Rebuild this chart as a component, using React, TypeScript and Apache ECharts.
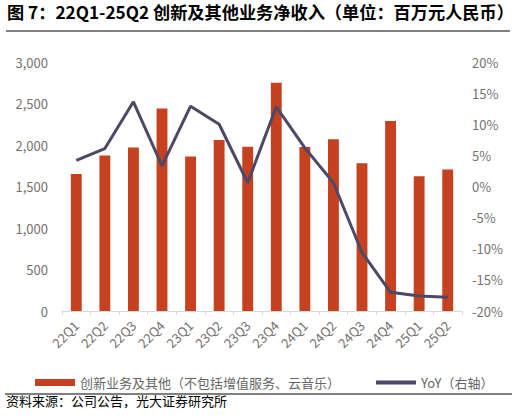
import React, { useEffect, useRef } from "react";
import * as echarts from "echarts";

const categories = ["22Q1","22Q2","22Q3","22Q4","23Q1","23Q2","23Q3","23Q4","24Q1","24Q2","24Q3","24Q4","25Q1","25Q2"];
const revenue = [1650, 1875, 1970, 2440, 1860, 2060, 1980, 2750, 1975, 2070, 1780, 2290, 1625, 1705];
const yoy = [4.2, 6.1, 13.6, 3.3, 12.9, 10.0, 0.6, 12.8, 6.2, 0.6, -10.6, -17.0, -17.6, -17.8];
const leftTicks = { min: 0, max: 3000, interval: 500 };
const rightTicks = { min: -20, max: 20, interval: 5 };

const titleText = "图 7：22Q1-25Q2 创新及其他业务净收入（单位：百万元人民币）";
const sourceText = "资料来源：公司公告，光大证券研究所";
const barName = "创新业务及其他（不包括增值服务、云音乐）";
const lineName = "YoY（右轴）";

const FONT = "'Noto Sans CJK SC', 'Noto Sans', sans-serif";
const BAR_COLOR = "#C5411F";
const LINE_COLOR = "#4B4967";
const LABEL_COLOR = "#767171";

export default function App() {
  const ref = useRef<HTMLDivElement>(null);
  useEffect(() => {
    if (!ref.current) return;
    const chart = echarts.init(ref.current, null, { renderer: "svg" });
    chart.setOption({
      animation: false,
      textStyle: { fontFamily: FONT },
      grid: { left: 62, right: 54, top: 62, bottom: 106 },
      graphic: [
        { type: "text", left: 7, top: 3, style: { text: titleText, font: `bold 17.2px ${FONT}`, fill: "#000" } },
        { type: "line", shape: { x1: 6, y1: 31, x2: 510, y2: 31 }, style: { stroke: "#000", lineWidth: 1 } },
        { type: "line", shape: { x1: 5, y1: 394, x2: 512, y2: 394 }, style: { stroke: "#000", lineWidth: 1 } },
        { type: "text", left: 6, top: 394, style: { text: sourceText, font: `13px ${FONT}`, fill: "#000" } },
      ],
      legend: [
        {
          data: [barName], left: 30, top: 371, icon: "rect", itemWidth: 40, itemHeight: 7,
          textStyle: { fontFamily: FONT, fontSize: 13, color: "#666666" },
        },
        {
          data: [lineName], left: 371, top: 371, icon: "rect", itemWidth: 40, itemHeight: 4,
          textStyle: { fontFamily: FONT, fontSize: 13, color: "#666666" },
        },
      ],
      xAxis: {
        type: "category",
        data: categories,
        axisLine: { lineStyle: { color: "#D9D9D9", width: 1 } },
        axisTick: { show: true, length: 4, lineStyle: { color: "#D9D9D9" } },
        axisLabel: { rotate: 45, fontSize: 13, color: LABEL_COLOR, fontFamily: FONT, margin: 12 },
      },
      yAxis: [
        {
          type: "value", ...leftTicks,
          axisLine: { show: false }, axisTick: { show: false }, splitLine: { show: false },
          axisLabel: {
            fontSize: 13, color: LABEL_COLOR, fontFamily: FONT, margin: 14,
            formatter: (v: number) => v.toLocaleString("en-US"),
          },
        },
        {
          type: "value", ...rightTicks, position: "right",
          axisLine: { show: false }, axisTick: { show: false }, splitLine: { show: false },
          axisLabel: { fontSize: 13, color: LABEL_COLOR, fontFamily: FONT, margin: 10, formatter: (v: number) => `${v}%` },
        },
      ],
      series: [
        { name: barName, type: "bar", data: revenue, barWidth: "38%", itemStyle: { color: BAR_COLOR } },
        {
          name: lineName, type: "line", yAxisIndex: 1, data: yoy, symbol: "none",
          lineStyle: { color: LINE_COLOR, width: 3 }, itemStyle: { color: LINE_COLOR },
        },
      ],
    });
    return () => chart.dispose();
  }, []);
  return <div ref={ref} style={{ width: 516, height: 417, position: "absolute", left: 0, top: 0 }} />;
}
